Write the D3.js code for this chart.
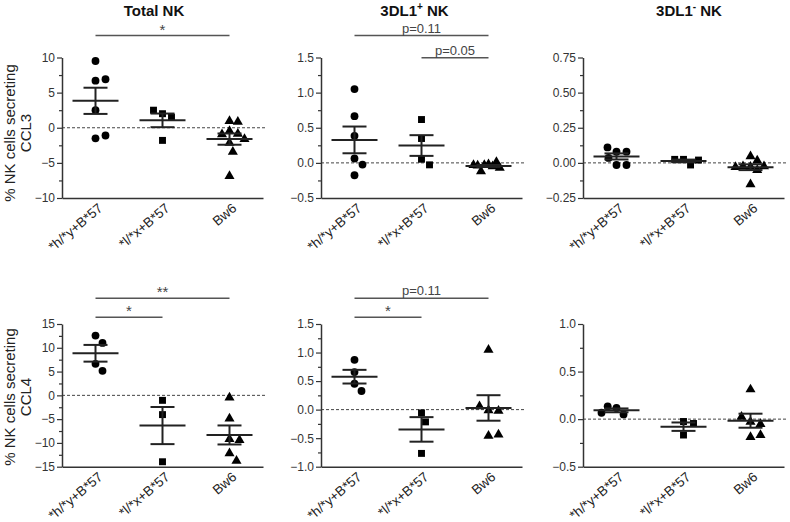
<!DOCTYPE html>
<html><head><meta charset="utf-8">
<script src="https://cdn.jsdelivr.net/npm/d3@7"></script>
<style>
body{margin:0;background:#fff}
svg{display:block}
text{font-family:"Liberation Sans",Arial,Helvetica,sans-serif}
</style>
</head><body>
<svg id="chart" width="790" height="522"></svg>
<script>
// ---------- data ----------
const categories = ["*h/*y+B*57", "*l/*x+B*57", "Bw6"];
const titleBase = ["Total NK", "3DL1", "3DL1"];
const titleSup = ["", "+", "-"];
const titleTail = ["", " NK", " NK"];
const rowLabelLine1 = "% NK cells secreting";
const rowLabels = ["CCL3", "CCL4"];

// CCL3 row
const ccl3Total = [
  [9.5, 6.7, 6.9, 2.5, -1.5, -1.1],
  [2.0, 1.5, 2.5, -1.8],
  [0.94, 0.85, -0.48, -0.86, -0.95, -1.61, -2.14, -3.42, -6.88]
];
const ccl3Pos = [
  [1.05, 0.665, 0.385, 0.062, -0.024, -0.176],
  [0.617, 0.347, 0.052, -0.028],
  [-0.02, -0.05, -0.03, 0.01, -0.12, -0.04, -0.07, -0.03]
];
const ccl3Neg = [
  [0.08, 0.08, 0.11, 0.035, -0.015, -0.015],
  [0.025, -0.015, 0.025, 0.02],
  [0.047, 0.017, -0.028, -0.024, -0.052, -0.024, -0.03, -0.153]
];
// CCL4 row
const ccl4Total = [
  [12.56, 11.03, 6.63, 5.16],
  [-1.05, -4.05, -13.96],
  [-0.49, -4.88, -9.21, -9.42, -12.21, -13.75]
];
const ccl4Pos = [
  [0.872, 0.657, 0.453, 0.326],
  [-0.058, -0.215, -0.767],
  [1.047, -0.012, -0.023, 0.058, -0.459, -0.436]
];
const ccl4Neg = [
  [0.117, 0.05, 0.135, 0.067],
  [-0.025, -0.046, -0.167],
  [0.312, -0.028, -0.053, 0.025, -0.188, -0.167]
];

// tick values
const ticksCcl3Total = [-10, -5, 0, 5, 10];
const ticksCcl3Pos = [-0.5, 0, 0.5, 1.0, 1.5];
const ticksCcl3Neg = [-0.25, 0, 0.25, 0.5, 0.75];
const ticksCcl4Total = [-15, -10, -5, 0, 5, 10, 15];
const ticksCcl4Pos = [-1.0, -0.5, 0, 0.5, 1.0, 1.5];
const ticksCcl4Neg = [-0.5, 0, 0.5, 1.0];
const tickFormats = ["d", ".1f", ".2f", "d", ".1f", ".1f"];

// significance annotations: category index pairs, label, stacking level
const sigCcl3Total = [{a: 0, b: 2, label: "*", level: 1}];
const sigCcl3Pos = [{a: 0, b: 2, label: "p=0.11", level: 1}, {a: 1, b: 2, label: "p=0.05", level: 0}];
const sigCcl3Neg = [];
const sigCcl4Total = [{a: 0, b: 2, label: "**", level: 1}, {a: 0, b: 1, label: "*", level: 0}];
const sigCcl4Pos = [{a: 0, b: 2, label: "p=0.11", level: 1}, {a: 0, b: 1, label: "*", level: 0}];
const sigCcl4Neg = [];

const symbols = [d3.symbolCircle, d3.symbolSquare, d3.symbolTriangle];

// ---------- layout ----------
const panels = [
  {row: 0, col: 0, data: ccl3Total, ticks: ticksCcl3Total, fmt: tickFormats[0], sig: sigCcl3Total},
  {row: 0, col: 1, data: ccl3Pos, ticks: ticksCcl3Pos, fmt: tickFormats[1], sig: sigCcl3Pos},
  {row: 0, col: 2, data: ccl3Neg, ticks: ticksCcl3Neg, fmt: tickFormats[2], sig: sigCcl3Neg},
  {row: 1, col: 0, data: ccl4Total, ticks: ticksCcl4Total, fmt: tickFormats[3], sig: sigCcl4Total},
  {row: 1, col: 1, data: ccl4Pos, ticks: ticksCcl4Pos, fmt: tickFormats[4], sig: sigCcl4Pos},
  {row: 1, col: 2, data: ccl4Neg, ticks: ticksCcl4Neg, fmt: tickFormats[5], sig: sigCcl4Neg}
];

const svg = d3.select("#chart");
const colX = [62, 321, 583];
const plotW = 201;
const rowY = [[57.5, 198], [324, 466.7]];
const sigLevelY = [[57.7, 35.5], [317.3, 298.3]];
const titleX = [154, 414.5, 689];
const rowLabelY = [133, 397];
const ink = "#222";

// titles
titleBase.forEach((t, i) => {
  const tx = svg.append("text")
    .attr("x", titleX[i])
    .attr("y", 16)
    .attr("text-anchor", "middle")
    .attr("font-size", 15)
    .attr("font-weight", "bold")
    .attr("fill", "#111");
  tx.append("tspan").text(t);
  if (titleSup[i]) {
    tx.append("tspan").attr("font-size", 10).attr("dy", -6).text(titleSup[i]);
    tx.append("tspan").attr("dy", 6).text(titleTail[i]);
  }
});

// row labels
rowLabels.forEach((lab, r) => {
  const g = svg.append("g").attr("transform", `translate(0,${rowLabelY[r]}) rotate(-90)`);
  g.append("text").attr("x", 0).attr("y", 15).attr("text-anchor", "middle")
    .attr("font-size", 15).attr("fill", "#222").text(rowLabelLine1);
  g.append("text").attr("x", 0).attr("y", 31).attr("text-anchor", "middle")
    .attr("font-size", 15).attr("fill", "#222").text(lab);
});

// simple beeswarm, compressed when a cluster gets too wide
function swarm(vals, y, d, maxHalf) {
  const placed = [];
  const out = vals.map(v => {
    const py = y(v);
    let off = 0;
    for (let k = 0; k < 200; k++) {
      const o = (k % 2 === 1 ? 1 : -1) * Math.ceil(k / 2);
      if (placed.every(p => Math.hypot(p.x - o, p.y - py) >= d)) { off = o; break; }
    }
    placed.push({x: off, y: py});
    return {v, dx: off, py};
  });
  const half = d3.max(out, o => Math.abs(o.dx));
  if (half > maxHalf) out.forEach(o => { o.dx *= maxHalf / half; });
  return out;
}

panels.forEach(p => {
  const x0 = colX[p.col];
  const [top, bottom] = rowY[p.row];
  const x = d3.scaleBand().domain(categories).range([x0, x0 + plotW]);
  const cx = c => x(c) + x.bandwidth() / 2;
  const dom = d3.extent(p.ticks);
  const y = d3.scaleLinear().domain(dom).range([bottom, top]);
  const g = svg.append("g");

  // minor ticks
  const minor = [];
  for (let i = 0; i < p.ticks.length - 1; i++) minor.push((p.ticks[i] + p.ticks[i + 1]) / 2);

  // zero reference line
  g.append("line")
    .attr("x1", x0).attr("x2", x0 + plotW + 4)
    .attr("y1", y(0)).attr("y2", y(0))
    .attr("stroke", "#444").attr("stroke-width", 1)
    .attr("stroke-dasharray", "3,2");

  // y axis
  const ya = g.append("g").attr("transform", `translate(${x0},0)`)
    .call(d3.axisLeft(y).tickValues(p.ticks).tickFormat(d3.format(p.fmt)).tickSize(5).tickSizeOuter(0).tickPadding(2));
  ya.select(".domain").attr("stroke", "#333").attr("stroke-width", 1.5);
  ya.selectAll(".tick line").attr("stroke", "#333").attr("stroke-width", 1.2);
  ya.selectAll(".tick text").attr("font-size", 12).attr("fill", "#333")
    .attr("font-family", "Liberation Sans, Arial, sans-serif");
  const ym = g.append("g").attr("transform", `translate(${x0},0)`)
    .call(d3.axisLeft(y).tickValues(minor).tickFormat("").tickSize(3).tickSizeOuter(0));
  ym.select(".domain").remove();
  ym.selectAll(".tick line").attr("stroke", "#333").attr("stroke-width", 1.2);

  // x axis
  const xa = g.append("g").attr("transform", `translate(0,${bottom})`)
    .call(d3.axisBottom(x).tickSize(0).tickSizeOuter(0));
  xa.select(".domain").attr("stroke", "#333").attr("stroke-width", 1.5);
  xa.selectAll(".tick text")
    .attr("x", 0).attr("y", 0).attr("dy", "0.35em")
    .attr("text-anchor", "end")
    .attr("transform", "translate(5,8) rotate(-40)")
    .attr("font-size", 13.5).attr("fill", "#222")
    .attr("font-family", "Liberation Sans, Arial, sans-serif");

  // points, mean and SEM
  categories.forEach((c, ci) => {
    const vals = p.data[ci];
    const pts = swarm(vals, y, 9.5, 15);
    const sym = d3.symbol().type(symbols[ci]).size(ci === 2 ? 44 : 48);
    g.selectAll(null).data(pts).enter().append("path")
      .attr("d", sym)
      .attr("transform", d => `translate(${cx(c) + d.dx},${d.py})`)
      .attr("fill", "#000");
    const m = d3.mean(vals);
    const sem = d3.deviation(vals) / Math.sqrt(vals.length);
    const mx = cx(c);
    g.append("line").attr("x1", mx - 23).attr("x2", mx + 23)
      .attr("y1", y(m)).attr("y2", y(m)).attr("stroke", ink).attr("stroke-width", 2);
    g.append("line").attr("x1", mx).attr("x2", mx)
      .attr("y1", y(m + sem)).attr("y2", y(m - sem)).attr("stroke", ink).attr("stroke-width", 2);
    [m + sem, m - sem].forEach(v => {
      g.append("line").attr("x1", mx - 12).attr("x2", mx + 12)
        .attr("y1", y(v)).attr("y2", y(v)).attr("stroke", ink).attr("stroke-width", 2);
    });
  });

  // significance bars
  p.sig.forEach(s => {
    const ly = sigLevelY[p.row][s.level];
    const xa1 = cx(categories[s.a]), xb1 = cx(categories[s.b]);
    g.append("line").attr("x1", xa1).attr("x2", xb1).attr("y1", ly).attr("y2", ly)
      .attr("stroke", "#555").attr("stroke-width", 1.5);
    const isStar = s.label.startsWith("*");
    g.append("text")
      .attr("x", (xa1 + xb1) / 2)
      .attr("y", isStar ? ly - 1 : ly - 3)
      .attr("text-anchor", "middle")
      .attr("font-size", isStar ? 15 : 13)
      .attr("fill", "#444")
      .text(s.label);
  });
});
</script>
</body></html>
